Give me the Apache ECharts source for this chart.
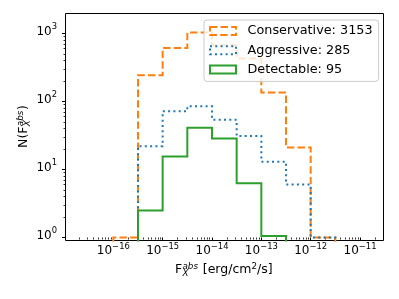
<!DOCTYPE html>
<html>
<head>
<meta charset="utf-8">
<script src="https://cdn.jsdelivr.net/npm/echarts@6/dist/echarts.min.js"></script>
<style>html,body{margin:0;padding:0;background:#fff;}#c{width:399px;height:299px;}</style>
</head>
<body>
<div id="c"></div>
<script>
// Histogram bin edges (log10 of flux, erg/cm^2/s)
const binEdgesExp = [-16, -15.5, -15, -14.5, -14, -13.5, -13, -12.5, -12, -11.5];
// Counts per bin
const conservative = [1, 244, 614, 1035, 673, 429, 136, 21, 1];
const aggressive   = [0, 22, 72, 85, 54, 31, 13, 6, 1];
const detectable   = [0, 2.5, 15.5, 41, 28.5, 6.3, 1.05, 0, 0];
const seriesNames  = ['Conservative: 3153', 'Aggressive: 285', 'Detectable: 95'];
// Tick positions (exponents)
const xMajorTicks = [-16, -15, -14, -13, -12, -11];
const yMajorTicks = [0, 1, 2, 3];

const FONT = 'DejaVu Sans';
const xMin = -16.969, xMax = -10.524;
const yMin = -0.044, yMax = 3.294;
const FLOOR = -1;

function stepPoints(counts) {
  const pts = [[binEdgesExp[0], FLOOR]];
  counts.forEach((c, i) => {
    const v = c > 0 ? Math.log10(c) : FLOOR;
    pts.push([binEdgesExp[i], v]);
    pts.push([binEdgesExp[i + 1], v]);
  });
  pts.push([binEdgesExp[binEdgesExp.length - 1], FLOOR]);
  return pts;
}
function minorTicks(n0, n1, lo, hi) {
  const out = [];
  for (let n = n0; n <= n1; n++) for (let k = 2; k <= 9; k++) {
    const v = n + Math.log10(k);
    if (v > lo && v < hi) out.push(v);
  }
  return out;
}
function powLabel(v) {
  const e = Math.round(v);
  return '{b|10}{s|' + (e < 0 ? '\u2212' + (-e) : e) + '}';
}
const labelRich = {
  b: { fontSize: 12, lineHeight: 17, verticalAlign: 'middle', fontFamily: FONT, color: '#000' },
  s: { fontSize: 8.4, lineHeight: 8.4, verticalAlign: 'top', fontFamily: FONT, color: '#000' }
};

const colors = ['#ff7f0e', '#1f77b4', '#2ca02c'];
const dashes = [[7.4, 3.2], [2, 3.3], 'solid'];
const datasets = [conservative, aggressive, detectable];

const chart = echarts.init(document.getElementById('c'), null, { renderer: 'canvas' });
chart.setOption({
  animation: false,
  backgroundColor: '#fff',
  grid: { left: 65.5, right: 15.5, top: 13.5, bottom: 58.5, show: true, borderColor: '#000', borderWidth: 1, backgroundColor: 'transparent', outerBoundsMode: 'none' },
  xAxis: [
    { type: 'value', min: xMin, max: xMax, position: 'bottom',
      axisLine: { show: false },
      splitLine: { show: false },
      axisTick: { show: true, customValues: xMajorTicks, length: 3.5, lineStyle: { color: '#000', width: 1 } },
      axisLabel: { show: true, customValues: xMajorTicks, margin: 2, formatter: powLabel, rich: labelRich, fontFamily: FONT }
    },
    { type: 'value', min: xMin, max: xMax, position: 'bottom',
      axisLine: { show: false }, splitLine: { show: false }, axisLabel: { show: false },
      axisTick: { show: true, customValues: minorTicks(-17, -11, xMin, xMax), length: 2, lineStyle: { color: '#000', width: 0.8 } }
    }
  ],
  yAxis: [
    { type: 'value', min: yMin, max: yMax, position: 'left',
      axisLine: { show: false },
      splitLine: { show: false },
      axisTick: { show: true, customValues: yMajorTicks, length: 3.5, lineStyle: { color: '#000', width: 1 } },
      axisLabel: { show: true, customValues: yMajorTicks, margin: 8.5, formatter: powLabel, rich: labelRich, padding: [0, 0, 4, 0], fontFamily: FONT }
    },
    { type: 'value', min: yMin, max: yMax, position: 'left',
      axisLine: { show: false }, splitLine: { show: false }, axisLabel: { show: false },
      axisTick: { show: true, customValues: minorTicks(-1, 3, yMin, yMax), length: 2, lineStyle: { color: '#000', width: 0.8 } }
    }
  ],
  legend: {
    orient: 'vertical', left: 204, top: 20,
    padding: [4, 6, 5, 5],
    itemWidth: 26, itemHeight: 8, itemGap: 5.2,
    backgroundColor: 'rgba(255,255,255,0.8)', borderColor: '#cccccc', borderWidth: 1, borderRadius: 3,
    icon: 'rect',
    textStyle: { fontSize: 12.8, color: '#000', fontFamily: FONT, lineHeight: 14, padding: [0, 0, 0, 6.5] },
    data: seriesNames.map((n, i) => ({
      name: n, icon: 'rect',
      itemStyle: { color: 'rgba(0,0,0,0)', borderColor: colors[i], borderWidth: 2, borderType: dashes[i] }
    }))
  },
  series: datasets.map((d, i) => ({
    name: seriesNames[i], type: 'line', xAxisIndex: 0, yAxisIndex: 0,
    data: stepPoints(d), showSymbol: false, symbol: 'none', clip: true,
    color: colors[i],
    lineStyle: { color: colors[i], width: 2, type: dashes[i], cap: 'butt', join: 'miter' }
  })),
  graphic: [
    { type: 'group', x: 24, y: 147.9, rotation: Math.PI / 2, children: [
      { type: 'text', x: 0, y: 0, style: { text: 'N(F', fontFamily: FONT, fontSize: 12.5, fill: '#000', align: 'left', verticalAlign: 'middle' } },
      { type: 'text', x: 21.7, y: -3.6, style: { text: 'abs', fontFamily: FONT, fontStyle: 'italic', fontSize: 8.75, fill: '#000', align: 'left', verticalAlign: 'middle' } },
      { type: 'text', x: 21.7, y: 3.9, style: { text: 'X', fontFamily: FONT, fontStyle: 'italic', fontSize: 8.75, fill: '#000', align: 'left', verticalAlign: 'middle' } },
      { type: 'text', x: 38, y: 0, style: { text: ')', fontFamily: FONT, fontSize: 12.5, fill: '#000', align: 'left', verticalAlign: 'middle' } }
    ]},
    { type: 'group', x: 175, y: 270.1, children: [
      { type: 'text', x: 0, y: 0, style: { text: 'F', fontFamily: FONT, fontSize: 12.5, fill: '#000', align: 'left', verticalAlign: 'middle' } },
      { type: 'text', x: 7.5, y: -3.6, style: { text: 'abs', fontFamily: FONT, fontStyle: 'italic', fontSize: 8.75, fill: '#000', align: 'left', verticalAlign: 'middle' } },
      { type: 'text', x: 7.5, y: 3.9, style: { text: 'X', fontFamily: FONT, fontStyle: 'italic', fontSize: 8.75, fill: '#000', align: 'left', verticalAlign: 'middle' } },
      { type: 'text', x: 23.8, y: 0, style: { text: ' [erg/cm{s|2}/s]', fontFamily: FONT, fontSize: 12.5, lineHeight: 16, fill: '#000', align: 'left', verticalAlign: 'middle',
        rich: { s: { fontFamily: FONT, fontSize: 8.75, verticalAlign: 'top', fill: '#000' } } } }
    ]}
  ]
});
</script>
</body>
</html>
